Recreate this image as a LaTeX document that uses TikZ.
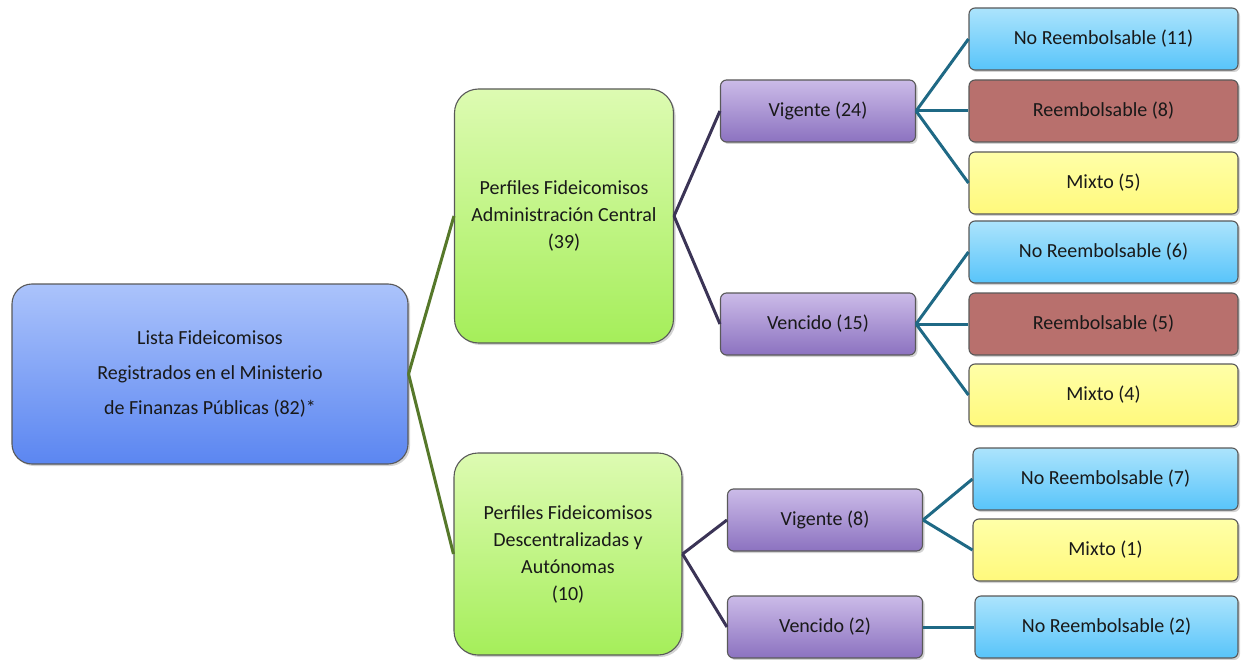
\documentclass[tikz,border=0pt]{standalone}
\usepackage{fontspec}
\setmainfont{Carlito}
\usetikzlibrary{shadows}
\definecolor{rootTop}{HTML}{ABC3FB}
\definecolor{rootBot}{HTML}{5B86F1}
\definecolor{greenTop}{HTML}{DDFBB2}
\definecolor{greenBot}{HTML}{A5EE5A}
\definecolor{violetTop}{HTML}{CBBBE8}
\definecolor{violetBot}{HTML}{8C72C0}
\definecolor{skyTop}{HTML}{ACE4FC}
\definecolor{skyBot}{HTML}{58C4FA}
\definecolor{brick}{HTML}{B8706D}
\definecolor{lemonTop}{HTML}{FFFFA8}
\definecolor{lemonBot}{HTML}{FFF97C}
\definecolor{oliveLine}{HTML}{56782A}
\definecolor{navyLine}{HTML}{3B3456}
\definecolor{tealLine}{HTML}{1F6985}
\begin{document}
\begin{tikzpicture}[x=1pt,y=-1pt]
    \tikzset{box/.style = {draw=black!65, line width=1.1pt, inner sep=0pt, align=center,
        font=\fontsize{20}{27}\selectfont, text=black!90,
        drop shadow={shadow xshift=2pt, shadow yshift=-2pt, opacity=0.35}}}
    \tikzset{rootbox/.style = {box, rounded corners=20pt, minimum width=396pt, minimum height=180pt,
        top color=rootTop, bottom color=rootBot, font=\fontsize{20}{35}\selectfont}}
    \tikzset{groupbox/.style = {box, rounded corners=24pt, top color=greenTop, bottom color=greenBot}}
    \tikzset{statebox/.style = {box, rounded corners=6pt, minimum width=195pt, minimum height=62pt,
        top color=violetTop, bottom color=violetBot}}
    \tikzset{leaf/.style = {box, rounded corners=6pt, minimum height=62pt}}
    \tikzset{noreemb/.style = {leaf, top color=skyTop, bottom color=skyBot}}
    \tikzset{reemb/.style = {leaf, fill=brick}}
    \tikzset{mixto/.style = {leaf, top color=lemonTop, bottom color=lemonBot}}
    \tikzset{link/.style = {line width=3pt}}
    \useasboundingbox (0,0) rectangle (1241,660);

    \node[rootbox] (lista) at (210,374) {Lista Fideicomisos\\Registrados en el Ministerio\\de Finanzas Públicas (82)*};

    \node[groupbox, minimum width=219pt, minimum height=254pt] (central) at (564,216) {Perfiles Fideicomisos\\Administración Central\\(39)};
    \node[groupbox, minimum width=228pt, minimum height=202pt] (descent) at (568,554) {Perfiles Fideicomisos\\Descentralizadas y\\Autónomas\\(10)};

    \node[statebox] (vig1) at (818,111) {Vigente (24)};
    \node[statebox] (ven1) at (818,324) {Vencido (15)};
    \node[statebox] (vig2) at (825,520) {Vigente (8)};
    \node[statebox] (ven2) at (825,627) {Vencido (2)};

    \node[noreemb, minimum width=269pt] (nr11) at (1103.5,39) {No Reembolsable (11)};
    \node[reemb, minimum width=269pt] (r8) at (1103.5,111) {Reembolsable (8)};
    \node[mixto, minimum width=269pt] (m5) at (1103.5,183) {Mixto (5)};
    \node[noreemb, minimum width=269pt] (nr6) at (1103.5,252) {No Reembolsable (6)};
    \node[reemb, minimum width=269pt] (r5) at (1103.5,324) {Reembolsable (5)};
    \node[mixto, minimum width=269pt] (m4) at (1103.5,395) {Mixto (4)};
    \node[noreemb, minimum width=265pt] (nr7) at (1105.5,479) {No Reembolsable (7)};
    \node[mixto, minimum width=265pt] (m1) at (1105.5,550) {Mixto (1)};
    \node[noreemb, minimum width=263pt] (nr2) at (1106.5,627) {No Reembolsable (2)};

    \draw[link, oliveLine] (lista.east) to (central.west);
    \draw[link, oliveLine] (lista.east) to (descent.west);
    \draw[link, navyLine] (central.east) to (vig1.west);
    \draw[link, navyLine] (central.east) to (ven1.west);
    \draw[link, navyLine] (descent.east) to (vig2.west);
    \draw[link, navyLine] (descent.east) to (ven2.west);
    \draw[link, tealLine] (vig1.east) to (nr11.west);
    \draw[link, tealLine] (vig1.east) to (r8.west);
    \draw[link, tealLine] (vig1.east) to (m5.west);
    \draw[link, tealLine] (ven1.east) to (nr6.west);
    \draw[link, tealLine] (ven1.east) to (r5.west);
    \draw[link, tealLine] (ven1.east) to (m4.west);
    \draw[link, tealLine] (vig2.east) to (nr7.west);
    \draw[link, tealLine] (vig2.east) to (m1.west);
    \draw[link, tealLine] (ven2.east) to (nr2.west);
\end{tikzpicture}
\end{document}
